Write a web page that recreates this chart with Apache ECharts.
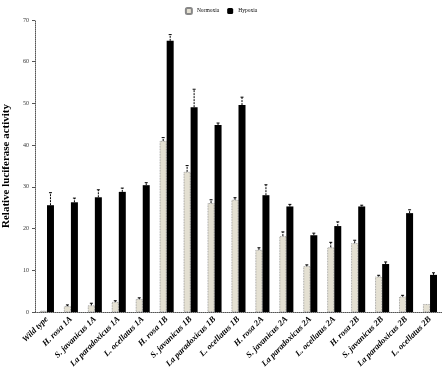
<!DOCTYPE html>
<html><head><meta charset="utf-8">
<script src="https://cdn.jsdelivr.net/npm/echarts@6/dist/echarts.min.js"></script>
<style>html,body{margin:0;padding:0;background:#fff}#c{width:442px;height:369px}</style>
</head><body><div id="c"></div>
<script>
var categories = ["Wild type","H. rosa 1A","S. javanicus 1A","La paradoxicus 1A","L. ocellatus 1A","H. rosa 1B","S. javanicus 1B","La paradoxicus 1B","L. ocellatus 1B","H. rosa 2A","S. javanicus 2A","La paradoxicus 2A","L. ocellatus 2A","H. rosa 2B","S. javanicus 2B","La paradoxicus 2B","L. ocellatus 2B"];
var normoxia = [0.3,1.4,1.6,2.4,3.1,41.0,33.6,26.1,26.9,14.9,18.2,11.0,15.5,16.5,8.5,3.7,1.9];
var normoxiaErr = [0,0.3,0.5,0.3,0.3,0.8,1.5,0.8,0.5,0.5,1.0,0.3,1.2,0.7,0.3,0.3,0];
var hypoxia = [25.6,26.3,27.5,28.8,30.4,65.0,49.1,44.8,49.6,28.0,25.3,18.4,20.6,25.3,11.5,23.7,8.9];
var hypoxiaErr = [3.0,1.0,1.8,0.9,0.6,1.5,4.3,0.5,1.9,2.5,0.5,0.5,1.0,0.3,0.5,0.8,0.5];
var yTicks = {min:0,max:70,interval:10};

function errSeries(vals, errs, offset){
  return {
    type:'custom', z:5,
    data: vals.map(function(v,i){return [i,v,errs[i]];}),
    renderItem: function(params, api){
      var i=api.value(0), v=api.value(1), e=api.value(2);
      var base=api.coord([i,v]); var top=api.coord([i,v+e]);
      var x=base[0]+offset;
      if(e<=0) return null;
      return {type:'group',children:[
        {type:'line',shape:{x1:x,y1:base[1],x2:x,y2:top[1]},style:{stroke:'#000',lineWidth:1,lineDash:[2,1]}},
        {type:'line',shape:{x1:x-1.5,y1:top[1],x2:x+1.5,y2:top[1]},style:{stroke:'#000',lineWidth:1}}
      ]};
    }
  };
}

var chart = echarts.init(document.getElementById('c'));
chart.setOption({
  animation:false,
  legend:{top:2,left:'center',itemWidth:6,itemHeight:6,itemGap:8,
    textStyle:{fontSize:5.5,fontFamily:'Liberation Serif',color:'#000'},
    data:['Normoxia','Hypoxia']},
  grid:{left:35,right:0,top:20,bottom:57,outerBoundsMode:'none',containLabel:false},
  xAxis:{type:'category',data:categories,
    axisLine:{lineStyle:{color:'#555',type:'dotted'}},axisTick:{show:false},
    axisLabel:{interval:0,rotate:45,fontSize:8.5,fontStyle:'italic',fontWeight:'bold',fontFamily:'Liberation Serif',color:'#000',margin:6}},
  yAxis:{type:'value',min:yTicks.min,max:yTicks.max,interval:yTicks.interval,
    name:'Relative luciferase activity',nameLocation:'middle',nameGap:23,
    nameTextStyle:{fontSize:11,fontWeight:'bold',fontFamily:'Liberation Serif',color:'#000'},
    axisLine:{show:true,lineStyle:{color:'#555',type:'dotted'}},
    axisTick:{show:true,length:3,lineStyle:{color:'#555'}},
    splitLine:{show:false},
    axisLabel:{fontSize:6,fontFamily:'Liberation Serif',color:'#333',margin:6}},
  series:[
    {name:'Normoxia',type:'bar',data:normoxia,barWidth:7,barGap:'0%',
      itemStyle:{color:'#e4e0d2',borderColor:'#888',borderWidth:0.8,borderType:'dotted'}},
    {name:'Hypoxia',type:'bar',data:hypoxia,barWidth:7,
      itemStyle:{color:'#000'}},
    errSeries(normoxia,normoxiaErr,-3.5),
    errSeries(hypoxia,hypoxiaErr,3.5)
  ]
});
</script></body></html>
